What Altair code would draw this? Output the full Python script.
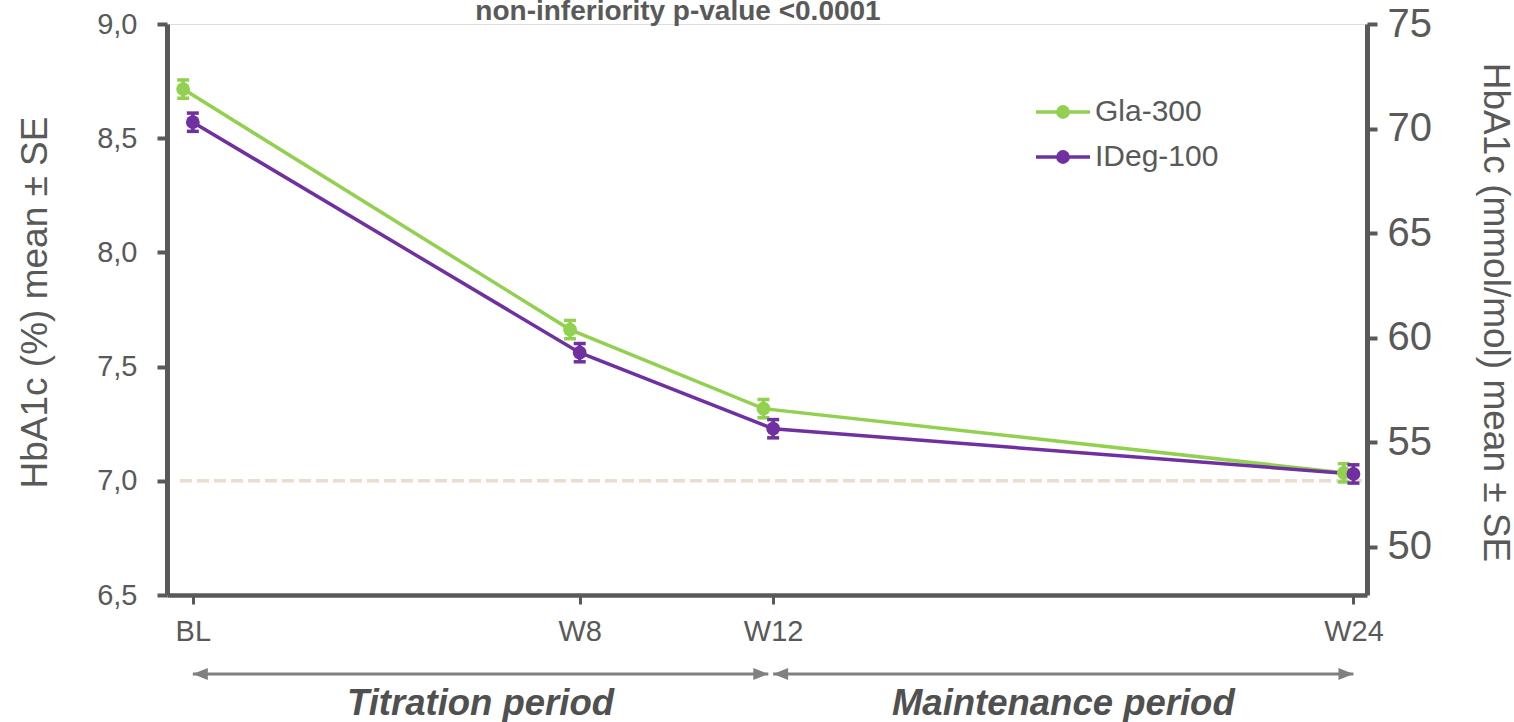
import altair as alt
import pandas as pd

# ---------------- data ----------------
weeks = [0, 8, 12, 24]
week_labels = ["BL", "W8", "W12", "W24"]
series = ["Gla-300", "IDeg-100"]
colors = ["#92D050", "#7030A0"]
gla_mean = [8.715, 7.662, 7.316, 7.035]
ideg_mean = [8.570, 7.561, 7.228, 7.030]
gla_se = [0.04, 0.04, 0.04, 0.04]
ideg_se = [0.04, 0.04, 0.04, 0.04]
series_offset = [-0.2, 0.0]          # small horizontal dodge (weeks)
target = [7.0]
periods = ["Titration period", "Maintenance period"]
period_start = [0.0, 12.0]
period_end = [11.9, 24.0]
title_text = "non-inferiority p-value <0.0001"

rows = []
for s, means, ses, off in zip(series, [gla_mean, ideg_mean], [gla_se, ideg_se], series_offset):
    for w, m, e in zip(weeks, means, ses):
        rows.append({"series": s, "week": w, "xpos": w + off, "mean": m, "se": e})
df = pd.DataFrame(rows)
df_target = pd.DataFrame({"target": target})
df_periods = pd.DataFrame({"period": periods, "start": period_start, "end": period_end})
df_title = pd.DataFrame({"t": [title_text]})
df_legend = pd.DataFrame({"series": series})

TXT = "#595959"
FONT = "Liberation Sans"

# ---------------- scales / axes ----------------
label_expr_x = "".join(
    f"datum.value == {w} ? '{l}' : " for w, l in zip(weeks, week_labels)
) + "''"

x_scale = alt.Scale(domain=[-0.534, 24.28], nice=False, zero=False)
x_axis = alt.Axis(
    values=weeks, labelExpr=label_expr_x, title=None, grid=False,
    domainColor=TXT, domainWidth=4.5, tickColor=TXT, tickWidth=3, tickSize=9,
    labelFontSize=29, labelColor=TXT, labelFont=FONT, labelPadding=13,
)
X = alt.X("xpos:Q", scale=x_scale, axis=x_axis)

y_scale = alt.Scale(domain=[6.5, 9.0], nice=False, zero=False)
y_axis = alt.Axis(
    values=[6.5, 7.0, 7.5, 8.0, 8.5, 9.0],
    labelExpr="replace(format(datum.value, '.1f'), '.', ',')",
    title="HbA1c (%) mean ± SE", grid=False,
    domainColor=TXT, domainWidth=5, tickColor=TXT, tickWidth=4, tickSize=10,
    labelFontSize=29, labelColor=TXT, labelFont=FONT, labelPadding=20,
    titleFontSize=37, titleFontWeight="normal", titleColor=TXT, titleFont=FONT,
    titleAngle=-90, titleBaseline="middle", titleX=-132, titleY=278,
)

color = alt.Color(
    "series:N",
    scale=alt.Scale(domain=series, range=colors),
    legend=None,
)

base = alt.Chart(df)

ref_line = alt.Chart(df_target).mark_rule(
    color="#E8DECB", strokeWidth=3.5, strokeDash=[12, 5]
).encode(
    y=alt.Y("target:Q", scale=y_scale, axis=y_axis),
    x=alt.value(13), x2=alt.value(1195),
)

lines = base.mark_line(strokeWidth=3.5).encode(
    x=X, y=alt.Y("mean:Q", scale=y_scale, axis=y_axis), color=color,
    detail="series:N",
)

errbars = base.transform_calculate(
    lo="datum.mean - datum.se", hi="datum.mean + datum.se"
).mark_errorbar(ticks=True, size=12, thickness=3.5, opacity=1).encode(
    x=X, y=alt.Y("lo:Q", scale=y_scale, axis=y_axis, title="HbA1c (%) mean ± SE"),
    y2="hi:Q", color=color,
)

points = base.mark_point(filled=True, size=190, opacity=1).encode(
    x=X, y=alt.Y("mean:Q", scale=y_scale, axis=y_axis), color=color,
)

# bottom period arrows + labels
arrow_color = "#808080"
Xp_start = alt.X("start:Q", scale=x_scale, axis=x_axis)
arrow_lines = alt.Chart(df_periods).mark_rule(color=arrow_color, strokeWidth=3).encode(
    x=Xp_start, x2="end:Q", y=alt.value(650),
)
head_left = alt.Chart(df_periods).mark_point(
    shape="M0,0L2,-0.8L2,0.8Z", filled=True, size=225, color=arrow_color, opacity=1
).encode(x=Xp_start, y=alt.value(650))
head_right = alt.Chart(df_periods).mark_point(
    shape="M0,0L-2,-0.8L-2,0.8Z", filled=True, size=225, color=arrow_color, opacity=1
).encode(x=alt.X("end:Q", scale=x_scale, axis=x_axis), y=alt.value(650))
period_text = alt.Chart(df_periods).transform_calculate(
    mid="(datum.start + datum.end) / 2"
).mark_text(
    fontSize=36.5, fontWeight="bold", fontStyle="italic", color="#505050",
    font=FONT, baseline="alphabetic", align="center",
).encode(
    x=alt.X("mid:Q", scale=x_scale, axis=x_axis), y=alt.value(691), text="period:N",
)

top_title = alt.Chart(df_title).mark_text(
    fontSize=28, fontWeight="bold", color=TXT, font=FONT,
    baseline="alphabetic", align="center",
).encode(x=alt.value(511), y=alt.value(-4), text="t:N")

main = alt.layer(
    ref_line, lines, errbars, points,
    arrow_lines, head_left, head_right, period_text, top_title,
)

# right axis (mmol/mol) carried by an invisible layer
right = base.transform_calculate(
    mmol="(datum.mean - 2.15) * 10.929"
).mark_point(opacity=0).encode(
    x=X,
    y=alt.Y(
        "mmol:Q",
        scale=alt.Scale(domain=[47.7, 75.0], nice=False, zero=False),
        axis=alt.Axis(
            orient="right", values=[50, 55, 60, 65, 70, 75], grid=False,
            title="HbA1c (mmol/mol) mean ± SE",
            domainColor=TXT, domainWidth=5, tickColor=TXT, tickWidth=4, tickSize=10,
            labelFontSize=40, labelColor=TXT, labelFont=FONT, labelPadding=10,
            titleFontSize=37, titleFontWeight="normal", titleColor=TXT,
            titleFont=FONT, titleAngle=90, titleBaseline="middle",
            titleX=127, titleY=288,
        ),
    ),
)

# legend (line + dot + label), rows placed by a point scale
leg_y = alt.Y("series:N", scale=alt.Scale(type="point", domain=series, range=[88, 133], padding=0),
              axis=None)
leg_base = alt.Chart(df_legend)
leg_rule = leg_base.mark_rule(strokeWidth=3.5).encode(
    x=alt.value(869), x2=alt.value(923), y=leg_y, color=color,
)
leg_dot = leg_base.mark_point(filled=True, size=190, opacity=1).encode(
    x=alt.value(896), y=leg_y, color=color,
)
leg_text = leg_base.mark_text(
    align="left", baseline="middle", fontSize=30, color=TXT, font=FONT,
).encode(x=alt.value(928), y=leg_y, text="series:N")

chart = alt.layer(main, right, leg_rule, leg_dot, leg_text).resolve_scale(
    y="independent"
).properties(
    width=1200, height=571,
    autosize=alt.AutoSizeParams(type="none"),
    padding={"left": 167, "top": 24, "right": 147, "bottom": 127},
).configure_view(stroke=None).configure(background="white")

chart.save("out.html", embed_options={"renderer": "svg", "actions": False})
